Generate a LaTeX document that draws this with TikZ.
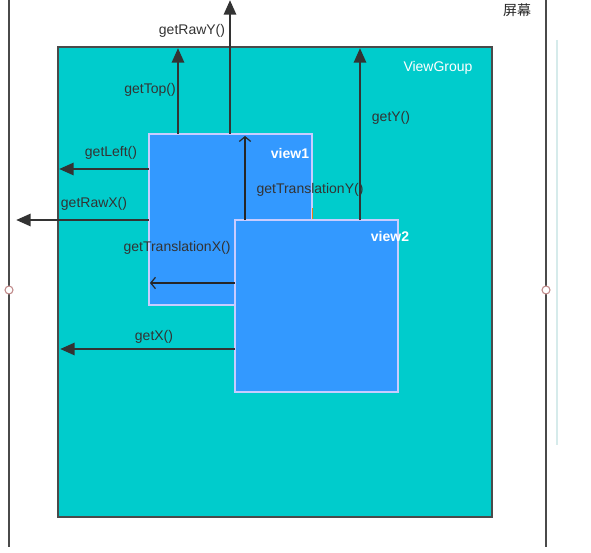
\documentclass[tikz,border=0pt]{standalone}
\usepackage{fontspec}
\setmainfont{Liberation Sans}
\newfontfamily\cjkfont{Noto Sans CJK SC}
\usetikzlibrary{arrows.meta}
\definecolor{vgcyan}{HTML}{00CCCC}
\definecolor{viewblue}{HTML}{3399FF}
\definecolor{edgelav}{HTML}{C8CCFF}
\definecolor{txtgray}{HTML}{333333}
\definecolor{linegray}{HTML}{4A4A4A}
\definecolor{pinred}{HTML}{C08A8A}
\definecolor{faintcyan}{HTML}{D6EBEB}

\begin{document}
\begin{tikzpicture}[x=0.75pt,y=-0.75pt,
    getarrow/.style={draw=txtgray,line width=2.2pt,-{Triangle[length=11pt,width=9pt]}},
    transarrow/.style={draw=black!85,line width=0.9pt,-{Straight Barb[length=3.5pt,width=8.5pt]}},
    lbl/.style={text=txtgray,font=\fontsize{10.5}{12}\selectfont,inner sep=0pt},
    viewlbl/.style={text=white,font=\fontsize{10.5}{12}\selectfont\bfseries,inner sep=0pt}]
  \useasboundingbox (0,0) rectangle (591,552);

  % screen
  \draw[linegray,line width=1.6pt] (9,0) -- (9,547);
  \draw[linegray,line width=1.6pt] (546,0) -- (546,547);
  \draw[faintcyan,line width=1.2pt] (557,40) -- (557,445);
  \filldraw[fill=white,draw=pinred,line width=0.8pt] (9,290) circle (3pt);
  \filldraw[fill=white,draw=pinred,line width=0.8pt] (546,290) circle (3pt);
  \node[text=black!85,font=\cjkfont\fontsize{10.5}{12}\selectfont,inner sep=0pt] (screen) at (517,10) {屏幕};

  % ViewGroup and the two views
  \coordinate (vgNW) at (58,47);
  \coordinate (vgSE) at (492,517);
  \coordinate (v1NW) at (149,134);
  \coordinate (v1SE) at (312,305);
  \coordinate (v2NW) at (235,220);
  \coordinate (v2SE) at (398,392);
  \filldraw[fill=vgcyan,draw=linegray,line width=1.6pt] (vgNW) rectangle (vgSE);
  \filldraw[fill=viewblue,draw=edgelav,line width=1.2pt] (v1NW) rectangle (v1SE);
  \draw[orange!60!brown,line width=0.5pt] (312,208) -- (312,219);
  \filldraw[fill=viewblue,draw=edgelav,line width=1.2pt] (v2NW) rectangle (v2SE);

  \node[text=white,font=\fontsize{10.5}{12}\selectfont,inner sep=0pt] (vglbl) at (438,68) {ViewGroup};
  \node[viewlbl] (v1lbl) at (290,153) {view1};
  \node[viewlbl] (v2lbl) at (390,236) {view2};

  % arrow tips
  \coordinate (rawYtip) at (230,0);
  \coordinate (topTip) at (178,48);
  \coordinate (yTip) at (360,48);
  \coordinate (leftTip) at (59,169);
  \coordinate (rawXtip) at (16,220);
  \coordinate (xTip) at (60,349);
  \coordinate (transYtip) at (245,136);
  \coordinate (transXtip) at (150,283);

  \draw[getarrow] (rawYtip |- v1NW) -- (rawYtip);
  \draw[getarrow] (topTip |- v1NW) -- (topTip);
  \draw[getarrow] (yTip |- v2NW) -- (yTip);
  \draw[getarrow] (v1NW |- leftTip) -- (leftTip);
  \draw[getarrow] (v1NW |- rawXtip) -- (rawXtip);
  \draw[getarrow] (v2NW |- xTip) -- (xTip);
  \draw[transarrow] (transYtip |- v2NW) -- (transYtip);
  \draw[transarrow] (v2NW |- transXtip) -- (transXtip);

  \node[lbl] (rawYlbl) at (192,31) {getRawY()};
  \node[lbl] (toplbl) at (150,90) {getTop()};
  \node[lbl] (ylbl) at (391,118) {getY()};
  \node[lbl] (leftlbl) at (111,153) {getLeft()};
  \node[lbl] (rawXlbl) at (94,204) {getRawX()};
  \node[lbl] (transYlbl) at (310,190) {getTranslationY()};
  \node[lbl] (transXlbl) at (177,248) {getTranslationX()};
  \node[lbl] (xlbl) at (154,337) {getX()};
\end{tikzpicture}
\end{document}
